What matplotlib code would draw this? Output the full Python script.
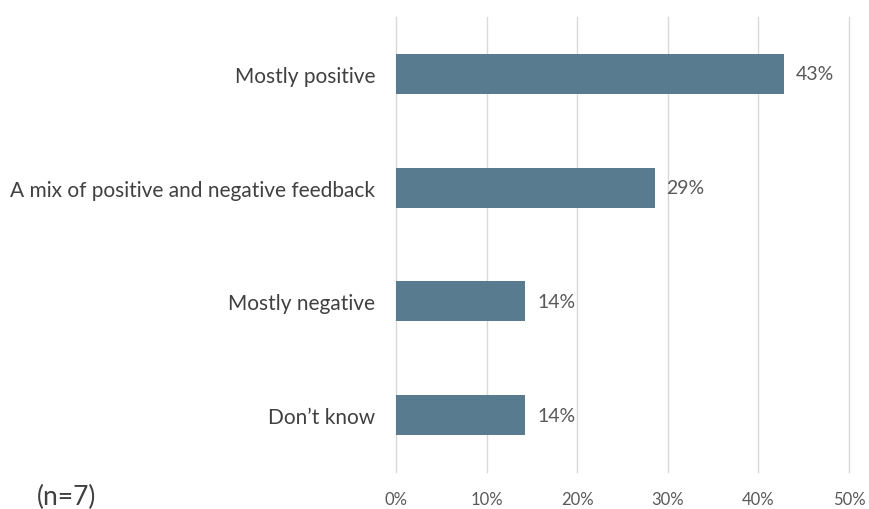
import matplotlib
matplotlib.use('Agg')
import matplotlib.pyplot as plt

# Dados do gráfico
categorias = ['Mostly positive', 'A mix of positive and negative feedback',
              'Mostly negative', 'Don\u2019t know']
valores = [42.86, 28.57, 14.29, 14.29]
rotulos = ['43%', '29%', '14%', '14%']
ticks_x = [0, 10, 20, 30, 40, 50]
ticks_rotulos = ['0%', '10%', '20%', '30%', '40%', '50%']

plt.rcParams['font.family'] = ['Lato', 'DejaVu Sans']

fig = plt.figure(figsize=(8.7, 5.1), dpi=100)
ax = fig.add_axes([396 / 870, 1 - 473 / 510, (849 - 396) / 870, (473 - 18) / 510])

pos = list(range(len(categorias)))[::-1]
ax.barh(pos, valores, height=0.35, color='#597b8f', zorder=3)

for p, v, r in zip(pos, valores, rotulos):
    ax.text(v + 1.3, p, r, va='center', ha='left', fontsize=14, color='#595959')

ax.set_xlim(0, 50)
ax.set_ylim(-0.5, len(categorias) - 0.5)
ax.set_xticks(ticks_x)
ax.set_xticklabels(ticks_rotulos, fontsize=12, color='#595959')
ax.set_yticks(pos)
ax.set_yticklabels(categorias, fontsize=15, color='#404040')
ax.tick_params(length=0)
ax.tick_params(axis='x', pad=14)
ax.tick_params(axis='y', pad=15)
ax.grid(axis='x', color='#d9d9d9', linewidth=1, zorder=0)
for linha in ax.get_xgridlines():
    linha.set_clip_on(False)
for s in ax.spines.values():
    s.set_visible(False)

fig.text(37 / 870, 1 - 497 / 510, '(n=7)', fontsize=19, color='#404040', va='center')

fig.savefig('out.png', dpi=100)
